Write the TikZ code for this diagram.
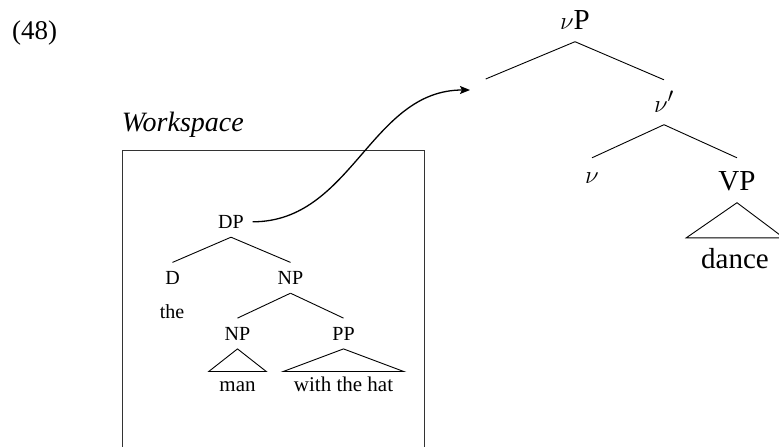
\documentclass[tikz,border=0pt]{standalone}
\usepackage{fontspec}
\setmainfont{Liberation Serif}
\usetikzlibrary{arrows.meta}

\begin{document}
\begin{tikzpicture}[
    x=1pt, y=-1pt,
    big/.style={font=\fontsize{29}{34}\selectfont},
    small/.style={font=\fontsize{20}{24}\selectfont},
    cat/.style={anchor=base, text depth=0pt},
    bigcat/.style={cat, big, text height=19.5pt, inner sep=12.5pt},
    smallcat/.style={cat, small, text height=13pt, inner sep=8.7pt},
    bigleaf/.style={cat, big, text height=19.5pt, inner xsep=14.7pt, inner ysep=10.5pt},
    smallleaf/.style={cat, font=\fontsize{21}{25}\selectfont, text height=13pt,
                      inner xsep=10.5pt, inner ysep=7pt},
    word/.style={anchor=base, inner sep=0pt},
    branch/.style={line width=0.9pt},
    wsbox/.style={draw=black!80, line width=0.9pt, anchor=north west,
                  minimum width=302.6pt, minimum height=320pt},
    move/.style={-{Stealth[length=10pt, width=8pt, inset=2pt]}, line width=1.3pt},
  ]
  \clip (0,0) rectangle (779,447);

  % --- example number and workspace ---
  \node[word, anchor=base west, font=\fontsize{27}{32}\selectfont] (exnum) at (12,39) {(48)};
  \node[word, anchor=base west, font=\fontsize{28}{33}\selectfont\itshape] (wslabel) at (121.7,131.7) {Workspace};
  \node[wsbox] (ws) at (121.7,150) {};

  % --- main tree ---
  \node[bigcat] (vP) at (575,29) {$\nu$P};
  \coordinate (spec) at (485.7,79);
  \node[bigcat] (vbar) at (664,112) {$\nu'$};
  \node[bigcat, text height=12.5pt] (v) at (592,183) {$\nu$};
  \node[bigcat] (VP) at (737,190) {VP};
  \node[bigleaf] (dance) at (735,268) {dance};

  \draw[branch] (vP.south) -- (spec);
  \draw[branch] (vP.south) -- (vbar.north);
  \draw[branch] (vbar.south) -- (v.north);
  \draw[branch] (vbar.south) -- (VP.north);
  \draw[branch] (VP.south) -- (dance.north west) -- (dance.north east) -- cycle;

  % --- tree in the workspace ---
  \node[smallcat] (DP) at (231,228.3) {DP};
  \node[smallcat] (D) at (172.5,284.3) {D};
  \node[smallcat] (NP) at (290.5,284.3) {NP};
  \node[word, small] (the) at (172,318) {the};
  \node[smallcat] (NPb) at (237.5,340) {NP};
  \node[smallcat] (PP) at (343.5,340) {PP};
  \node[smallleaf] (man) at (237.5,391.7) {man};
  \node[smallleaf] (hat) at (343.5,391.7) {with the hat};

  \draw[branch] (DP.south) -- (D.north);
  \draw[branch] (DP.south) -- (NP.north);
  \draw[branch] (NP.south) -- (NPb.north);
  \draw[branch] (NP.south) -- (PP.north);
  \draw[branch] (NPb.south) -- (man.north west) -- (man.north east) -- cycle;
  \draw[branch] (PP.south) -- (hat.north west) -- (hat.north east) -- cycle;

  % --- movement out of the workspace ---
  \coordinate (landing) at (470,90);
  \draw[move] (DP.east) to[out=0, in=180] (landing);
\end{tikzpicture}
\end{document}
